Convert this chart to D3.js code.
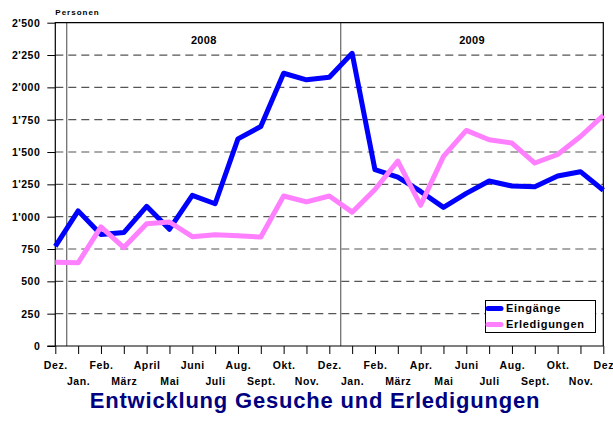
<!DOCTYPE html>
<html>
<head>
<meta charset="utf-8">
<script src="https://cdn.jsdelivr.net/npm/d3@7"></script>
<style>
body { margin: 0; background: #fff; }
text { font-family: "Liberation Sans", Arial, sans-serif; font-weight: bold; }
.tick_label { fill: #000; }
</style>
</head>
<body>
<div id="canvas"></div>
<script>
// ----------------------------------------------------------
// DATA -----------------------------------------------------
// ----------------------------------------------------------

// months from Dez. 2007 to Dez. 2009
var data_months = ["Dez.", "Jan.", "Feb.", "März", "April", "Mai", "Juni", "Juli", "Aug.", "Sept.", "Okt.", "Nov.",
  "Dez.", "Jan.", "Feb.", "März", "Apr.", "Mai", "Juni", "Juli", "Aug.", "Sept.", "Okt.", "Nov.", "Dez"];

var data_eingaenge = [770, 1045, 862, 877, 1080, 903, 1165, 1100, 1602, 1697, 2109, 2058,
  2078, 2263, 1363, 1306, 1195, 1072, 1180, 1276, 1237, 1232, 1314, 1348, 1204];

var data_erledigungen = [648, 643, 921, 761, 946, 959, 845, 860, 852, 843, 1160, 1114,
  1160, 1035, 1210, 1430, 1088, 1466, 1667, 1595, 1569, 1415, 1481, 1620, 1783];

var data_series = [
  { term: "Eingänge", values: data_eingaenge, color: "#0000ff" },
  { term: "Erledigungen", values: data_erledigungen, color: "#ff80ff" }
];

var data_years = [
  { term: "2008", from: 0.5, to: 12.5 },
  { term: "2009", from: 12.5, to: 24 }
];

var data_y_ticks = [0, 250, 500, 750, 1000, 1250, 1500, 1750, 2000, 2250, 2500];

var data_set = {
  container_width: 613,
  container_height: 421,
  left: 55.3,
  right: 603.3,
  top: 22.7,
  bottom: 346,
  color_grid: "#555",
  color_title: "#000080"
};

// ----------------------------------------------------------
// STRUCTURE ------------------------------------------------
// ----------------------------------------------------------

var container = d3.select("#canvas").append("svg")
  .attr("width", data_set.container_width)
  .attr("height", data_set.container_height)
  .style("background-color", "#fff");

var grid_group = container.append("g").attr("class", "grid_group");
var axis_group = container.append("g").attr("class", "axis_group");
var gfx_group = container.append("g").attr("class", "gfx_group");
var text_group = container.append("g").attr("class", "text_group");

// scales
var xScale = d3.scaleLinear()
  .domain([0, data_months.length - 1])
  .range([data_set.left, data_set.right]);

var yScale = d3.scaleLinear()
  .domain([0, 2500])
  .range([data_set.bottom, data_set.top]);

var locale = d3.formatLocale({ decimal: ".", thousands: "'", grouping: [3], currency: ["", ""] });
var fmt = locale.format(",d");

// ----------------------------------------------------------
// GRID -----------------------------------------------------
// ----------------------------------------------------------

grid_group.selectAll(".grid_line")
  .data(data_y_ticks.filter(function (d) { return d > 0 && d < 2500; }))
  .enter()
  .append("line")
  .attr("class", "grid_line")
  .attr("x1", data_set.left)
  .attr("x2", data_set.right)
  .attr("y1", function (d) { return yScale(d); })
  .attr("y2", function (d) { return yScale(d); })
  .style("stroke", data_set.color_grid)
  .style("stroke-width", 1.2)
  .style("stroke-dasharray", "8,5");

// year separators
grid_group.selectAll(".year_line")
  .data(data_years)
  .enter()
  .append("line")
  .attr("class", "year_line")
  .attr("x1", function (d) { return xScale(d.from); })
  .attr("x2", function (d) { return xScale(d.from); })
  .attr("y1", data_set.top)
  .attr("y2", data_set.bottom)
  .style("stroke", "#666")
  .style("stroke-width", 1.2);

// year labels
grid_group.selectAll(".year_text")
  .data(data_years)
  .enter()
  .append("text")
  .attr("class", "year_text")
  .attr("x", function (d) { return xScale((d.from + d.to) / 2); })
  .attr("y", 44)
  .attr("text-anchor", "middle")
  .style("font-size", "11px")
  .style("letter-spacing", "0.3px")
  .text(function (d) { return d.term; });

// ----------------------------------------------------------
// AXES -----------------------------------------------------
// ----------------------------------------------------------

// Y axis
var yAxis = d3.axisLeft(yScale)
  .tickValues(data_y_ticks)
  .tickSize(8)
  .tickPadding(7)
  .tickFormat(fmt);

var y_axis = axis_group.append("g")
  .attr("transform", "translate(" + data_set.left + ",0)")
  .call(yAxis);
y_axis.select(".domain").remove();
y_axis.selectAll("line").style("stroke", "#000");
y_axis.selectAll("text")
  .attr("class", "tick_label")
  .style("font-family", "'Liberation Sans', Arial, sans-serif")
  .style("font-size", "10.5px")
  .style("letter-spacing", "0.5px")
  .style("font-weight", "bold");

// X axis
var xAxis = d3.axisBottom(xScale)
  .tickValues(d3.range(data_months.length))
  .tickSize(8)
  .tickFormat(function (i) { return data_months[i]; });

var x_axis = axis_group.append("g")
  .attr("transform", "translate(0," + data_set.bottom + ")")
  .call(xAxis);
x_axis.select(".domain").remove();
x_axis.selectAll("line").style("stroke", "#000");
x_axis.selectAll("text")
  .attr("class", "tick_label")
  .attr("y", function (i) { return i % 2 === 0 ? 23 : 38.5; })
  .attr("dy", null)
  .style("font-family", "'Liberation Sans', Arial, sans-serif")
  .style("font-size", "10.5px")
  .style("letter-spacing", "0.6px")
  .style("font-weight", "bold");

// frame: left, top, right
axis_group.append("path")
  .attr("d", "M" + data_set.left + "," + data_set.bottom +
    "V" + data_set.top + "H" + data_set.right + "V" + data_set.bottom)
  .style("fill", "none")
  .style("stroke", "#000")
  .style("stroke-width", 1.2);

// bottom axis line
axis_group.append("line")
  .attr("x1", data_set.left - 8)
  .attr("x2", data_set.right)
  .attr("y1", data_set.bottom)
  .attr("y2", data_set.bottom)
  .style("stroke", "#000")
  .style("stroke-width", 1.2);

// "Personen"
text_group.append("text")
  .attr("x", data_set.left)
  .attr("y", 15)
  .style("font-size", "8px")
  .style("letter-spacing", "1px")
  .text("Personen");

// ----------------------------------------------------------
// GFX ------------------------------------------------------
// ----------------------------------------------------------

var line = d3.line()
  .x(function (d, i) { return xScale(i); })
  .y(function (d) { return yScale(d); });

gfx_group.selectAll(".gfx_line")
  .data(data_series)
  .enter()
  .append("path")
  .attr("class", "gfx_line")
  .attr("d", function (d) { return line(d.values); })
  .style("fill", "none")
  .style("stroke", function (d) { return d.color; })
  .style("stroke-width", 5)
  .style("stroke-linejoin", "round");

// ----------------------------------------------------------
// LEGEND ---------------------------------------------------
// ----------------------------------------------------------

var legend = container.append("g").attr("class", "legend");

legend.append("rect")
  .attr("x", 485.5)
  .attr("y", 300.5)
  .attr("width", 110)
  .attr("height", 32)
  .style("fill", "#fff")
  .style("stroke", "#000")
  .style("stroke-width", 1);

var legend_item = legend.selectAll(".legend_item")
  .data(data_series)
  .enter()
  .append("g")
  .attr("class", "legend_item")
  .attr("transform", function (d, i) { return "translate(0," + (308.5 + i * 16) + ")"; });

legend_item.append("line")
  .attr("x1", 488)
  .attr("x2", 501)
  .style("stroke", function (d) { return d.color; })
  .style("stroke-width", 5)
  .style("stroke-linecap", "round");

legend_item.append("text")
  .attr("x", 506)
  .attr("y", 3.8)
  .style("font-size", "11px")
  .style("letter-spacing", "0.7px")
  .text(function (d) { return d.term; });

// ----------------------------------------------------------
// TEXT -----------------------------------------------------
// ----------------------------------------------------------

text_group.append("text")
  .attr("x", 315)
  .attr("y", 408)
  .attr("text-anchor", "middle")
  .style("font-size", "22px")
  .style("letter-spacing", "0.8px")
  .style("fill", data_set.color_title)
  .text("Entwicklung Gesuche und Erledigungen");
</script>
</body>
</html>
